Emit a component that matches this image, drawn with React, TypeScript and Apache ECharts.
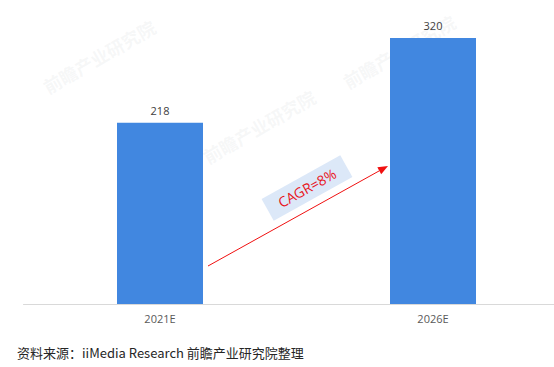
import React, { useEffect, useRef } from "react";
import * as echarts from "echarts";

const categories = ["2021E", "2026E"];
const values = [218, 320];
const sourceText = "资料来源：iiMedia Research 前瞻产业研究院整理";
const cagrText = "CAGR=8%";
const watermarkText = "前瞻产业研究院";

export default function App() {
  const ref = useRef<HTMLDivElement>(null);
  useEffect(() => {
    const chart = echarts.init(ref.current!, null, { renderer: "svg" });
    const x0 = 208, y0 = 266, tipX = 388, tipY = 166;
    const ang = Math.atan2(y0 - tipY, tipX - x0);
    const L = 10, W = 4;
    const ux = Math.cos(ang), uy = -Math.sin(ang);
    const bx = tipX - L * ux, by = tipY - L * uy;
    const px = -uy, py = ux;
    const arrowHead = [
      [tipX, tipY],
      [bx + px * W, by + py * W],
      [bx - px * W, by - py * W],
    ];
    const wm = (x: number, y: number) => ({
      type: "text",
      x,
      y,
      z: 0,
      rotation: Math.PI / 6,
      silent: true,
      style: {
        text: watermarkText,
        fill: "rgba(200,205,210,0.16)",
        font: "bold 18px 'Noto Sans CJK SC'",
      },
    });
    chart.setOption({
      animation: false,
      grid: {
        left: 23.5,
        width: 546,
        top: 13,
        bottom: 63,
        containLabel: false,
        outerBoundsMode: "none",
      },
      xAxis: {
        type: "category",
        data: categories,
        axisLine: { lineStyle: { color: "#d9d9d9", width: 1 } },
        axisTick: { show: false },
        axisLabel: {
          color: "#595959",
          fontSize: 11,
          margin: 9,
          fontFamily: "'Open Sans', 'Noto Sans CJK SC'",
        },
      },
      yAxis: {
        type: "value",
        min: 0,
        max: 350,
        show: false,
        splitLine: { show: false },
      },
      series: [
        {
          type: "bar",
          data: values,
          barWidth: 86,
          z: 2,
          itemStyle: { color: "#4187e0" },
          label: {
            show: true,
            position: "top",
            distance: 7,
            color: "#404040",
            fontSize: 11,
            fontFamily: "'Open Sans', 'Noto Sans CJK SC'",
          },
        },
      ],
      graphic: [
        wm(40, 80),
        wm(340, 75),
        wm(200, 150),
        {
          type: "line",
          z: 100,
          shape: { x1: x0, y1: y0, x2: bx, y2: by },
          style: { stroke: "#f01010", lineWidth: 1 },
        },
        {
          type: "polygon",
          z: 100,
          shape: { points: arrowHead },
          style: { fill: "#f01010" },
        },
        {
          type: "group",
          x: 307,
          y: 188,
          z: 100,
          rotation: ang,
          children: [
            {
              type: "rect",
              z: 100,
              shape: { x: -45, y: -12.5, width: 90, height: 25 },
              style: { fill: "#dce8f8" },
            },
            {
              type: "text",
              z: 101,
              x: 0,
              y: 0,
              style: {
                text: cagrText,
                fill: "#e8141c",
                font: "14px 'Open Sans', 'Noto Sans CJK SC'",
                align: "center",
                verticalAlign: "middle",
              },
            },
          ],
        },
        {
          type: "text",
          left: 17,
          top: 346,
          z: 100,
          style: {
            text: sourceText,
            fill: "#262626",
            font: "13px 'Noto Sans CJK SC', 'Liberation Sans'",
          },
        },
      ],
    });
    return () => chart.dispose();
  }, []);
  return (
    <div
      ref={ref}
      style={{ position: "fixed", left: 0, top: 0, width: 554, height: 367, background: "#fff" }}
    />
  );
}
